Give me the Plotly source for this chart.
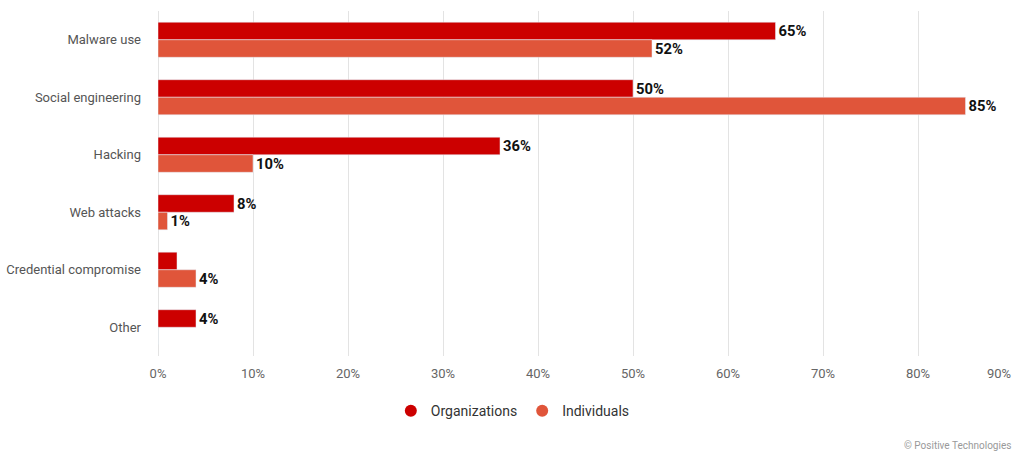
import plotly.graph_objects as go

# Categories and values
categories = ['Malware use', 'Social engineering', 'Hacking', 'Web attacks',
              'Credential compromise', 'Other']
organizations = [65, 50, 36, 8, 2, 4]
individuals = [52, 85, 10, 1, 4, 0]
org_labels = ['65%', '50%', '36%', '8%', '', '4%']
ind_labels = ['52%', '85%', '10%', '1%', '4%', '']
x_ticks = [0, 10, 20, 30, 40, 50, 60, 70, 80, 90]

ORG_COLOR = '#CC0000'
IND_COLOR = '#E0553A'

# the last tick label is right-aligned to its gridline (drawn as an annotation below)
tick_text = [f'{v}%' for v in x_ticks]
last_tick = tick_text[-1]
tick_text[-1] = ''

fig = go.Figure()

fig.add_trace(go.Bar(
    y=categories, x=organizations, orientation='h', name='Organizations',
    marker_color=ORG_COLOR, text=org_labels, textposition='outside',
    textfont=dict(family='Roboto', size=16, color='#111111', weight='bold'),
    cliponaxis=False, showlegend=False,
))
fig.add_trace(go.Bar(
    y=categories, x=individuals, orientation='h', name='Individuals',
    marker_color=IND_COLOR, text=ind_labels, textposition='outside',
    textfont=dict(family='Roboto', size=16, color='#111111', weight='bold'),
    cliponaxis=False, showlegend=False,
))

# legend entries with round markers
for name, color in [('Organizations', ORG_COLOR), ('Individuals', IND_COLOR)]:
    fig.add_trace(go.Scatter(
        x=[None], y=[None], mode='markers', name=name,
        marker=dict(symbol='circle', size=13, color=color),
    ))

fig.update_layout(
    width=1024, height=455,
    margin=dict(l=158, r=11, t=11, b=99, autoexpand=False),
    paper_bgcolor='white', plot_bgcolor='white',
    barmode='group', bargap=0.39, bargroupgap=0,
    font=dict(family='Roboto', size=13, color='#555555'),
    showlegend=True,
    legend=dict(orientation='h', x=0.415, xanchor='center', y=-0.16, yanchor='middle',
                font=dict(size=14, color='#333333'), itemsizing='constant',
                itemwidth=30),
    xaxis=dict(range=[0, 90], tickvals=x_ticks, ticktext=tick_text,
               showgrid=True, gridcolor='#e3e3e3', gridwidth=1,
               zeroline=True, zerolinecolor='#e3e3e3', zerolinewidth=1,
               showline=False, ticks='', ticklabelstandoff=8,
               tickfont=dict(size=13, color='#666666')),
    yaxis=dict(autorange='reversed', showgrid=False, zeroline=False,
               ticks='', ticklabelstandoff=16,
               tickfont=dict(size=13, color='#555555')),
    annotations=[
        dict(text=last_tick, xref='x', yref='paper', x=x_ticks[-1], y=-0.051,
             xanchor='right', yanchor='middle', showarrow=False,
             font=dict(size=13, color='#666666')),
        dict(text='© Positive Technologies', xref='paper', yref='paper',
             x=1.0, y=-0.26, xanchor='right', yanchor='middle', showarrow=False,
             font=dict(size=10, color='#999999')),
    ],
)

# drop the default page margin so the figure sits at the window's corner
fig.write_html('out.html', config={'displayModeBar': False},
               post_script="document.body.style.margin='0';")
